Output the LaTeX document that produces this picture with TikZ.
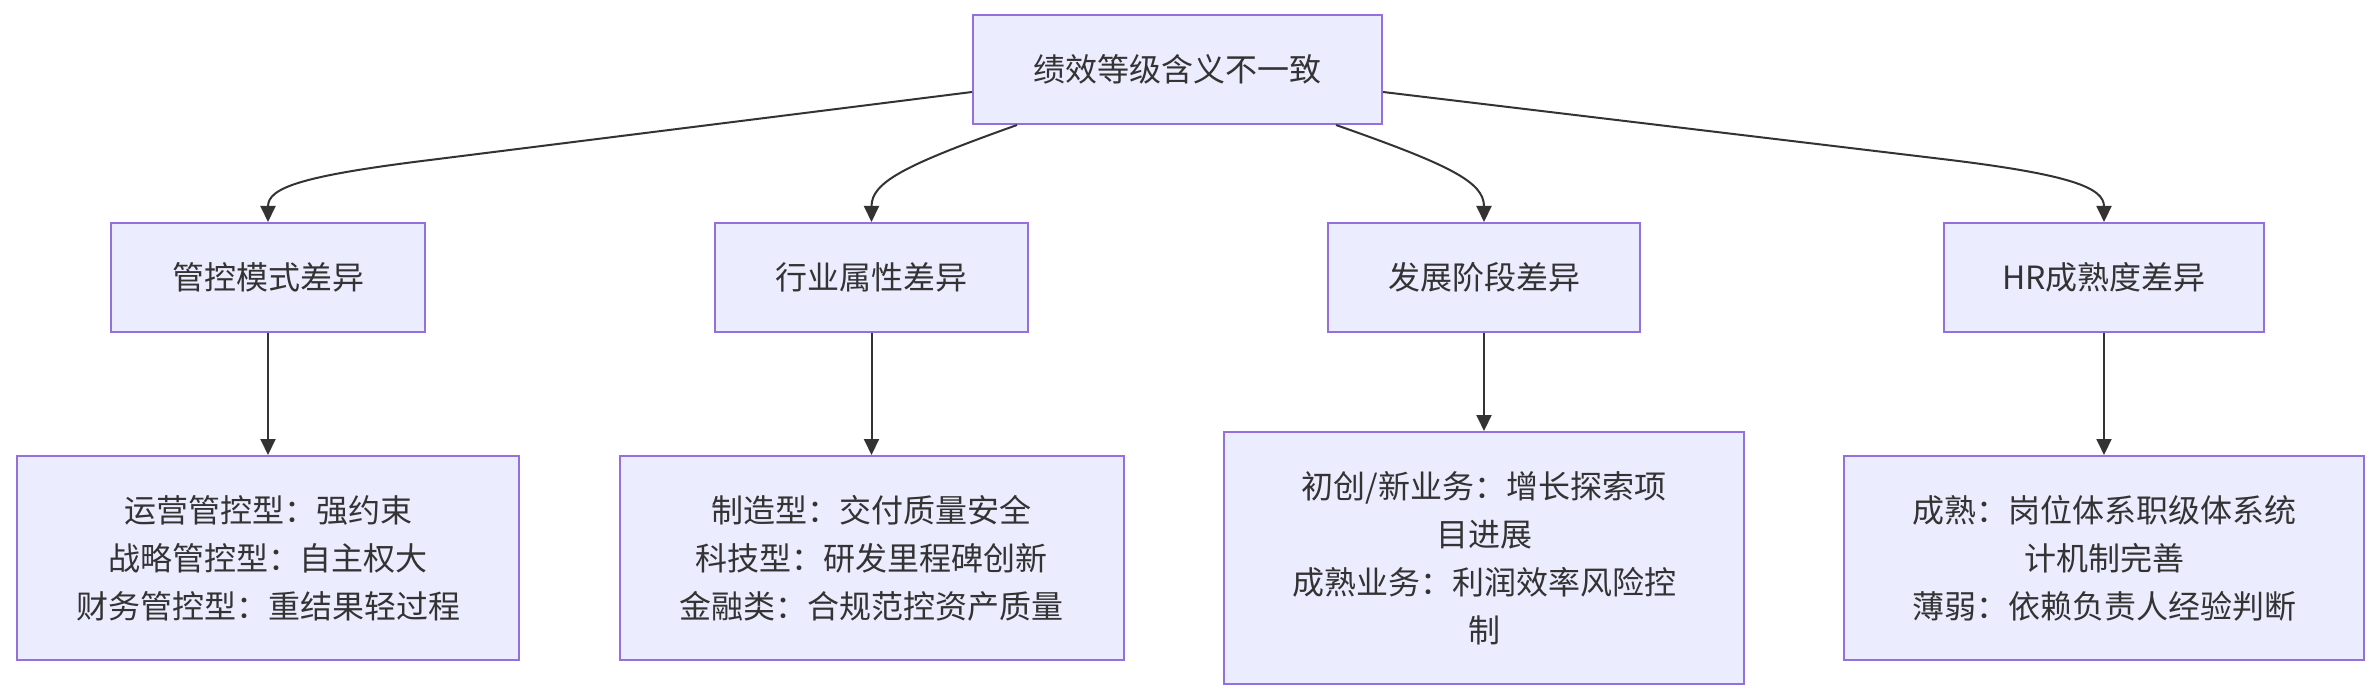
\documentclass[tikz,border=0pt]{standalone}
\usepackage{fontspec}
\setmainfont{Noto Sans CJK SC}
\usetikzlibrary{arrows.meta}
\definecolor{boxfill}{HTML}{ECECFF}
\definecolor{boxline}{HTML}{9370DB}
\definecolor{ink}{HTML}{333333}
\begin{document}
\begin{tikzpicture}[x=1pt,y=-1pt,
  box/.style={draw=boxline, fill=boxfill, line width=2pt, text=ink,
    font=\fontsize{32}{48}\selectfont, align=center, inner sep=0pt},
  conn/.style={draw=ink, line width=2pt, -{Triangle[length=16pt,width=15pt]}}]
\fill[white] (0,0) rectangle (2380,700);
\useasboundingbox (0,0) rectangle (2380,700);

\node[box, minimum width=409pt, minimum height=109pt] (top) at (1177.5,69.5) {绩效等级含义不一致};

\node[box, minimum width=314pt, minimum height=109pt] (A) at (268,277.5) {管控模式差异};
\node[box, minimum width=313pt, minimum height=109pt] (B) at (871.5,277.5) {行业属性差异};
\node[box, minimum width=312pt, minimum height=109pt] (C) at (1484,277.5) {发展阶段差异};
\node[box, minimum width=320pt, minimum height=109pt] (D) at (2104,277.5) {HR成熟度差异};

\node[box, minimum width=502pt, minimum height=204pt] (LA) at (268,558)
  {运营管控型：强约束\\战略管控型：自主权大\\财务管控型：重结果轻过程};
\node[box, minimum width=504pt, minimum height=204pt] (LB) at (871.5,558)
  {制造型：交付质量安全\\科技型：研发里程碑创新\\金融类：合规范控资产质量};
\node[box, minimum width=520pt, minimum height=252pt] (LC) at (1484,558)
  {初创/新业务：增长探索项\\目进展\\成熟业务：利润效率风险控\\制};
\node[box, minimum width=520pt, minimum height=204pt] (LD) at (2104,558)
  {成熟：岗位体系职级体系统\\计机制完善\\薄弱：依赖负责人经验判断};

\draw[conn] ([yshift=-22.5pt]top.west) -- (430,160)
  .. controls (300,176) and (268,188) .. (A.north);
\draw[conn] ([xshift=-160.5pt]top.south)
  .. controls (905,165) and (871.5,182) .. (B.north);
\draw[conn] ([xshift=158.5pt]top.south)
  .. controls (1450,165) and (1484,182) .. (C.north);
\draw[conn] ([yshift=-22.5pt]top.east) -- (1942,159)
  .. controls (2072,174.5) and (2104,188) .. (D.north);

\draw[conn] (A.south) -- (LA.north);
\draw[conn] (B.south) -- (LB.north);
\draw[conn] (C.south) -- (LC.north);
\draw[conn] (D.south) -- (LD.north);
\end{tikzpicture}
\end{document}
